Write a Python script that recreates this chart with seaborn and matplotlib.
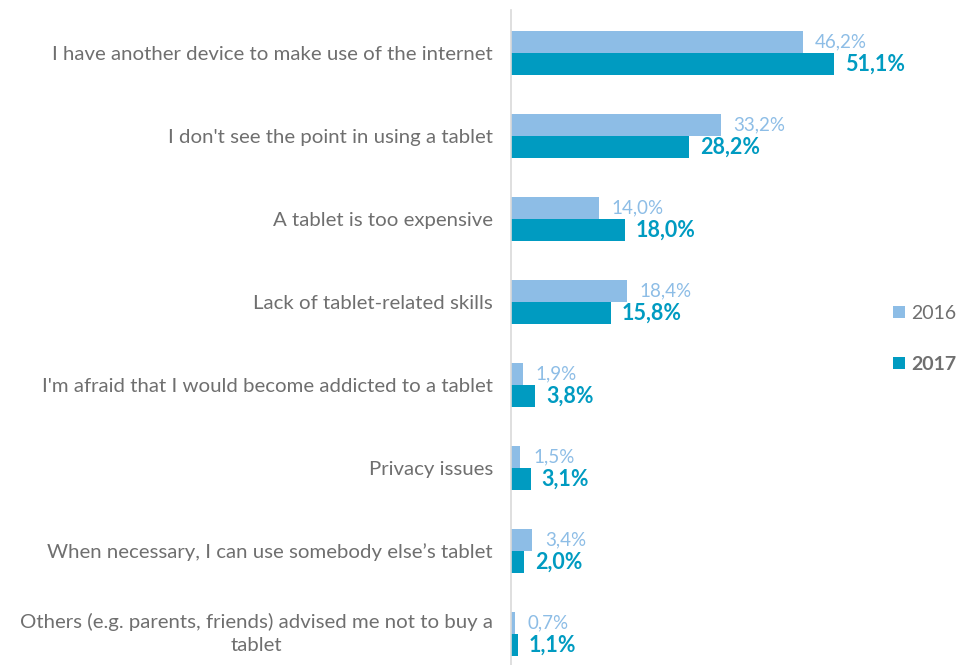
import matplotlib
matplotlib.use("Agg")
import matplotlib.pyplot as plt
import matplotlib.transforms as mtransforms
import seaborn as sns
import pandas as pd
from matplotlib.patches import Patch

categories = [
    "I have another device to make use of the internet",
    "I don't see the point in using a tablet",
    "A tablet is too expensive",
    "Lack of tablet-related skills",
    "I'm afraid that I would become addicted to a tablet",
    "Privacy issues",
    "When necessary, I can use somebody else\u2019s tablet",
    "Others (e.g. parents, friends) advised me not to buy a\ntablet",
]
values_2016 = [46.2, 33.2, 14.0, 18.4, 1.9, 1.5, 3.4, 0.7]
values_2017 = [51.1, 28.2, 18.0, 15.8, 3.8, 3.1, 2.0, 1.1]
years = ["2016", "2017"]

c16 = "#8DBDE6"
c17 = "#009BC1"
gray = "#6f6f6f"

df = pd.DataFrame({
    "reason": categories * 2,
    "value": values_2016 + values_2017,
    "year": [years[0]] * len(categories) + [years[1]] * len(categories),
})

sns.set_theme(style="white")
plt.rcParams["font.family"] = ["Lato", "DejaVu Sans"]

fig = plt.figure(figsize=(9.63, 6.65), dpi=100)
ax = fig.add_axes([511 / 963, 0.0, 442 / 963, 1 - 10 / 665])

sns.barplot(data=df, y="reason", x="value", hue="year", order=categories,
            hue_order=years, palette=[c16, c17], width=0.53, ax=ax,
            legend=False, saturation=1, edgecolor="none")

ax.set_xlim(0, 70)
ax.set_ylim(7.373, -0.518)
ax.set_xlabel("")
ax.set_ylabel("")
ax.set_xticks([])
for s in ["top", "right", "bottom"]:
    ax.spines[s].set_visible(False)
ax.spines["left"].set_color("#d9d9d9")
ax.spines["left"].set_linewidth(1.2)
ax.tick_params(axis="y", length=0, pad=13, labelsize=14.7, labelcolor=gray)
labels = ax.get_yticklabels()
for t in labels:
    t.set_horizontalalignment("right")
    t.set_multialignment("center")
    t.set_linespacing(1.45)
labels[-1].set_transform(labels[-1].get_transform() +
                         mtransforms.ScaledTranslation(0, 5 / 100, fig.dpi_scale_trans))

fmt = lambda v: f"{v:.1f}%".replace(".", ",")
for c, cont in enumerate(ax.containers):
    vals = values_2016 if c == 0 else values_2017
    for rect, v in zip(cont.patches, vals):
        y = rect.get_y() + rect.get_height() / 2
        if c == 0:
            ax.annotate(fmt(v), (rect.get_width(), y), xytext=(9, 0),
                        textcoords="offset points", va="center", ha="left",
                        fontsize=13.5, color=c16)
        else:
            ax.annotate(fmt(v), (rect.get_width(), y), xytext=(8, 0),
                        textcoords="offset points", va="center", ha="left",
                        fontsize=15.5, color=c17, fontweight="bold")

handles = [Patch(facecolor=c16, edgecolor="none"), Patch(facecolor=c17, edgecolor="none")]
leg = fig.legend(handles, years, loc="center left", bbox_to_anchor=(889 / 963, 1 - 339 / 665),
                 frameon=False, fontsize=14, labelcolor=gray, handlelength=0.6,
                 handleheight=0.6, handletextpad=0.35, labelspacing=1.75,
                 borderaxespad=0, borderpad=0.2)
leg.get_texts()[1].set_fontweight("bold")

fig.savefig("out.png", dpi=100)
